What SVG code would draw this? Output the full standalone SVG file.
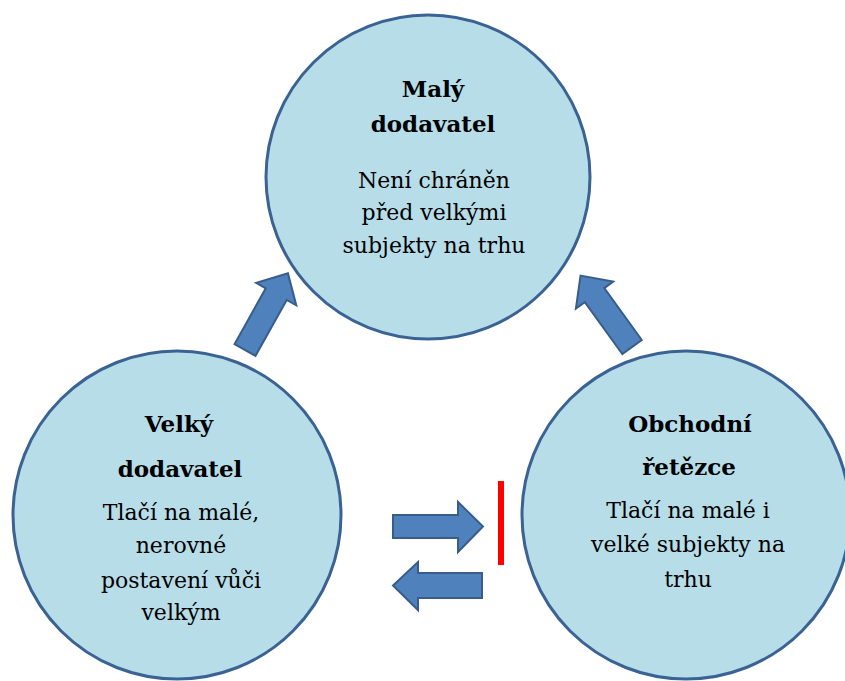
<svg xmlns="http://www.w3.org/2000/svg" width="845" height="681" viewBox="0 0 845 681">
<style>
.node circle{fill:#b7dde8;stroke:#3a6393;stroke-width:3}
.t{font-family:"DejaVu Serif",Georgia,serif;font-size:22px;fill:#000;text-anchor:middle}
.b{font-weight:bold;font-size:23px}
.arr{fill:#4f81bd;stroke:#385d8a;stroke-width:2;stroke-linejoin:miter}
</style>
<defs>
<path id="blk" d="M0,-12 L64,-12 L64,-23 L88,0 L64,23 L64,12 L0,12 Z"/>
</defs>
<rect width="845" height="681" fill="#fff"/>
<g id="maly" class="node">
<circle cx="428" cy="177" r="162"/>
<text class="t b" x="433" y="97">Malý</text>
<text class="t b" x="433" y="132">dodavatel</text>
<text class="t" x="434" y="188">Není chráněn</text>
<text class="t" x="434" y="220">před velkými</text>
<text class="t" x="434" y="253">subjekty na trhu</text>
</g>
<g id="velky" class="node">
<circle cx="177" cy="515" r="164"/>
<text class="t b" x="179" y="432">Velký</text>
<text class="t b" x="180" y="477">dodavatel</text>
<text class="t" x="181" y="520">Tlačí na malé,</text>
<text class="t" x="181" y="553">nerovné</text>
<text class="t" x="181" y="588">postavení vůči</text>
<text class="t" x="181" y="620">velkým</text>
</g>
<g id="obchodni" class="node">
<circle cx="686" cy="515" r="164"/>
<text class="t b" x="690" y="432">Obchodní</text>
<text class="t b" x="689" y="475">řetězce</text>
<text class="t" x="688" y="518">Tlačí na malé i</text>
<text class="t" x="688" y="552">velké subjekty na</text>
<text class="t" x="688" y="587">trhu</text>
</g>
<g id="connectors">
<use href="#blk" class="arr" transform="translate(245,350) rotate(-60.8)"/>
<use href="#blk" class="arr" transform="translate(632,347) rotate(-125.8)"/>
<path class="arr" d="M393,515 L458,515 L458,502 L483,526.5 L458,552 L458,538 L393,538 Z"/>
<path class="arr" d="M482,573 L418,573 L418,562 L393,585.5 L418,610 L418,598 L482,598 Z"/>
<rect x="498" y="481" width="6" height="84" fill="#ff0000"/>
</g>
</svg>
